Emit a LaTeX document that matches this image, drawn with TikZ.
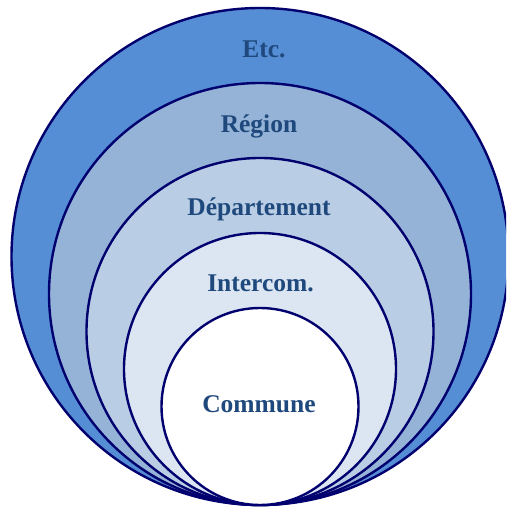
\documentclass[tikz,border=0pt]{standalone}
\usepackage{fontspec}
\setmainfont{Liberation Serif}
\definecolor{ringA}{HTML}{558ED5}
\definecolor{ringB}{HTML}{95B3D7}
\definecolor{ringC}{HTML}{B9CDE5}
\definecolor{ringD}{HTML}{DCE6F2}
\definecolor{edgecol}{RGB}{0,0,110}
\definecolor{labelcol}{HTML}{1F497D}
\tikzset{
  ring/.style={draw=edgecol, line width=2.4pt},
  lab/.style={text=labelcol, font=\fontsize{25.5}{28}\selectfont\bfseries, anchor=base, inner sep=0pt}
}
\begin{document}
\begin{tikzpicture}[x=1pt,y=1pt]
\useasboundingbox (0,0) rectangle (506,508);
\clip (0,0) rectangle (506,508);
\fill[white] (0,0) rectangle (506,508);
\draw[ring, fill=ringA] (260,251.5) circle (248.5);
\draw[ring, fill=ringB] (260,214) circle (211);
\draw[ring, fill=ringC] (260,176.5) circle (173.5);
\draw[ring, fill=ringD] (260,139) circle (136);
\draw[ring, fill=white] (260,101.5) circle (98.5);
\node[lab] (etc) at (264,450) {Etc.};
\node[lab] (region) at (259,375.3) {Région};
\node[lab] (dep) at (259,292.3) {Département};
\node[lab] (inter) at (260.5,216.3) {Intercom.};
\node[lab] (commune) at (259,95) {Commune};
\end{tikzpicture}
\end{document}
